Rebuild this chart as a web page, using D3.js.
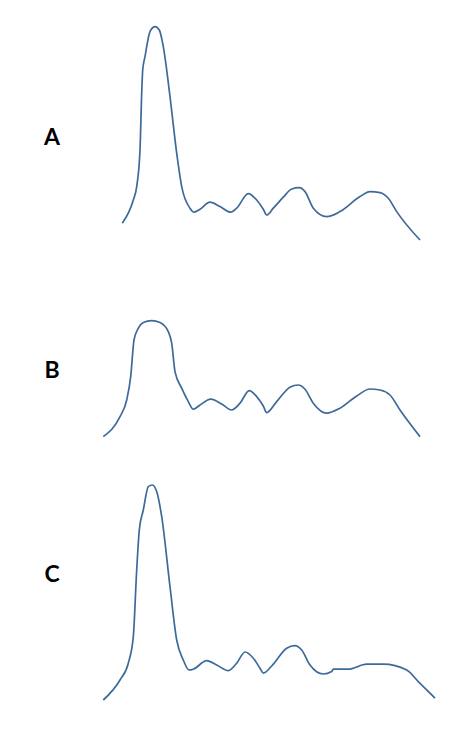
<!DOCTYPE html>
<html>
<head>
<meta charset="utf-8">
<script src="https://cdn.jsdelivr.net/npm/d3@7"></script>
<style>
  body { margin: 0; background: #fff; }
  svg { display: block; }
</style>
</head>
<body>
<div class="svg-container"></div>
<script>
// traces: [time, signal]
const labels = ['A', 'B', 'C'];

const traceA = [
  [2.23, 8.4], [3.33, 20], [3.67, 26.7], [4.0, 45], [4.17, 73.4], [4.27, 85],
  [4.5, 91.7], [5.0, 104.2], [5.5, 106.7], [5.93, 105], [6.33, 96.7], [7.0, 71.7],
  [7.67, 43.4], [8.17, 26.7], [9.0, 15.9], [9.4, 13.9], [10.0, 15.4], [11.0, 18.9],
  [12.0, 16.7], [13.07, 13.9], [13.67, 15.9], [14.83, 23.2], [15.67, 20], [16.33, 15.4],
  [16.67, 12.5], [17.33, 15.9], [18.33, 21.4], [19.17, 25.5], [19.93, 26.2], [20.5, 24.2],
  [21.33, 15.9], [22.67, 11.7], [24.0, 14.2], [26.0, 21.7], [27.0, 24.2], [28.0, 23.7],
  [28.83, 20.9], [29.67, 14.2], [32.0, 0]
];

const traceB = [
  [0.33, 0.2], [2.0, 10.2], [2.67, 18.5], [3.07, 30.2], [3.4, 48.5], [3.83, 54.4],
  [4.33, 57.2], [5.17, 58.2], [6.0, 57.2], [6.83, 52.7], [7.17, 46.9], [7.5, 32.7],
  [8.17, 24.4], [8.83, 17.7], [9.33, 13.9], [10.0, 16], [11.07, 18.9], [12.17, 16.5],
  [13.17, 13.5], [14.0, 16.9], [14.93, 23.2], [15.67, 20.2], [16.33, 15.5], [16.67, 12.2],
  [17.67, 17.7], [19.0, 24.9], [19.83, 26], [20.5, 23.9], [21.33, 16.9], [22.67, 11.9],
  [24.0, 14.4], [25.67, 20.5], [27.0, 24], [28.0, 23.5], [29.0, 21], [30.0, 13.5],
  [32.0, 0.2]
];

const traceC = [
  [0.33, 0], [2.0, 10], [2.83, 18.4], [3.33, 31.7], [3.67, 65], [3.93, 85],
  [4.33, 95], [4.83, 106.7], [5.23, 107.5], [5.67, 104.2], [6.17, 91.7], [7.0, 56.7],
  [7.67, 30], [8.33, 20], [8.9, 15], [9.33, 15.4], [10.67, 19.7], [11.67, 17.5],
  [12.83, 14.7], [13.67, 18.4], [14.5, 24], [15.33, 20.9], [16.0, 15.9], [16.33, 13.4],
  [17.17, 17], [18.67, 25.9], [19.5, 27.2], [20.17, 25], [21.0, 17.5], [22.33, 13],
  [23.17, 14.2], [23.33, 15.4], [24.83, 15.4], [26.67, 17.9], [28.33, 17.9], [30.67, 15],
  [31.83, 9.2], [33.5, 0.9]
];

const traces = [traceA, traceB, traceC];

let chart = {
  mainSelect: '.svg-container',
  width: 463,
  height: 729,
  panelHeight: 220,
  panelTops: [20, 217, 480],
  labelY: [136, 369, 573],
  lineColor: '#3d6a99',
  makeChart(){
    const svg = d3.select(chart.mainSelect).append('svg')
      .attr('width', chart.width)
      .attr('height', chart.height);

    const x = d3.scaleLinear().domain([0, 34]).range([100, 440]);
    const y = d3.scaleLinear().domain([0, 110]).range([chart.panelHeight, 0]);

    const line = d3.line()
      .x(d => x(d[0]))
      .y(d => y(d[1]))
      .curve(d3.curveMonotoneX);

    traces.forEach(function(trace, i){
      const g = svg.append('g')
        .attr('transform', 'translate(0,' + chart.panelTops[i] + ')');
      g.append('path')
        .datum(trace)
        .attr('d', line)
        .attr('fill', 'none')
        .attr('stroke', chart.lineColor)
        .attr('stroke-width', 1.7)
        .attr('stroke-linejoin', 'round');

      svg.append('text')
        .attr('x', 52)
        .attr('y', chart.labelY[i])
        .attr('text-anchor', 'middle')
        .attr('dominant-baseline', 'central')
        .style('font-family', 'Lato, "Open Sans", sans-serif')
        .style('font-weight', 'bold')
        .style('font-size', '23px')
        .text(labels[i]);
    });
  }
};

document.addEventListener('DOMContentLoaded', function(){
  chart.makeChart();
});
</script>
</body>
</html>
